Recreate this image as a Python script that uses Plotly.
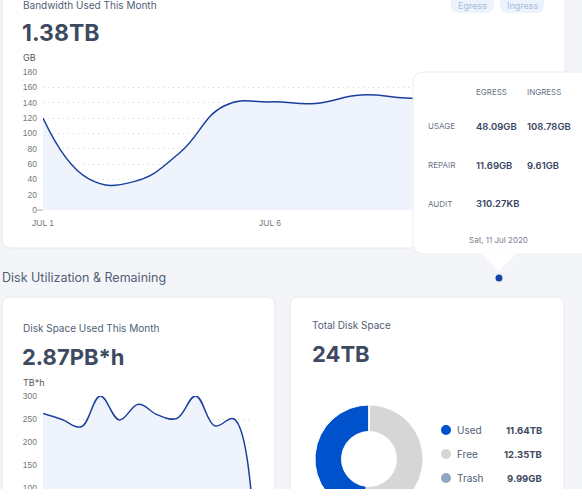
import math
import plotly.graph_objects as go

W, H = 582, 500

# ---------------- data ----------------
bw_days = list(range(1, 12))
bw_gb = [120, 41, 37, 74, 136, 141, 139, 150, 146, 144, 147]
bw_tickvals = [1, 6, 11]
bw_ticktext = ["JUL 1", "JUL 6", "JUL 11"]
bw_yticks = [0, 20, 40, 60, 80, 100, 120, 140, 160, 180]

disk_days = list(range(1, 13))
disk_tbh = [262, 249, 233, 300, 248, 282, 259, 251, 300, 235, 250, 40]
disk_yticks = [100, 150, 200, 250, 300]

donut_labels = ["Used", "Free", "Trash"]
donut_values_tb = [11.64, 12.35, 0.00999]
donut_text = ["11.64TB", "12.35TB", "9.99GB"]
donut_colors = ["#0052cc", "#d6d6d6", "#8fa5c6"]

tip_cols = ["EGRESS", "INGRESS"]
tip_rows = ["USAGE", "REPAIR", "AUDIT"]
tip_egress = ["48.09GB", "11.69GB", "310.27KB"]
tip_ingress = ["108.78GB", "9.61GB", ""]
tip_date = "Sat, 11 Jul 2020"

# ---------------- styles ----------------
BG = "#f4f5f9"
CARD_LINE = "#e7e9ee"
TITLE_C = "#516075"
BIG_C = "#3e4a61"
TICK_C = "#777777"
LINE_C = "#1b3f9c"
FILL_C = "#eff3fb"
GRID_C = "#d4d4d4"
FONT = "Inter"
TICKFONT = "Liberation Sans"


def X(x):
    return x / W


def Y(y):
    return 1 - y / H


def rr(x0, y0, x1, y1, r):
    p = [
        f"M {X(x0 + r)},{Y(y0)}",
        f"L {X(x1 - r)},{Y(y0)}",
        f"Q {X(x1)},{Y(y0)} {X(x1)},{Y(y0 + r)}",
        f"L {X(x1)},{Y(y1 - r)}",
        f"Q {X(x1)},{Y(y1)} {X(x1 - r)},{Y(y1)}",
        f"L {X(x0 + r)},{Y(y1)}",
        f"Q {X(x0)},{Y(y1)} {X(x0)},{Y(y1 - r)}",
        f"L {X(x0)},{Y(y0 + r)}",
        f"Q {X(x0)},{Y(y0)} {X(x0 + r)},{Y(y0)}",
        "Z",
    ]
    return " ".join(p)


shapes = []


def add_path(path, fill, line=None, layer="below", lw=1):
    shapes.append(dict(type="path", xref="paper", yref="paper", path=path,
                       fillcolor=fill, line=dict(color=line or fill, width=lw if line else 0),
                       layer=layer))


# page background and cards
shapes.append(dict(type="rect", xref="paper", yref="paper", x0=0, x1=1, y0=Y(489), y1=1,
                   fillcolor=BG, line=dict(width=0), layer="below"))
add_path(rr(2, -20, 565, 248, 9), "white", CARD_LINE)
add_path(rr(2, 297, 275, 540, 9), "white", CARD_LINE)
add_path(rr(290, 297, 564, 540, 9), "white", CARD_LINE)
# pills
add_path(rr(451, -12, 494, 13, 8), "#edf3fd")
add_path(rr(500, -12, 544, 13, 8), "#edf3fd")
# zero tick dash
shapes.append(dict(type="line", xref="paper", yref="paper", x0=X(37), x1=X(43), y0=Y(210), y1=Y(210),
                   line=dict(color="#aaaaaa", width=1), layer="below"))

# tooltip (above)
add_path(rr(413, 72, 595, 254, 11), "white", "#ebedf1", layer="above")
shapes.append(dict(type="path", xref="paper", yref="paper",
                   path=f"M {X(482)},{Y(253.5)} L {X(499)},{Y(271)} L {X(516)},{Y(253.5)} Z",
                   fillcolor="white", line=dict(width=0), layer="above"))
shapes.append(dict(type="circle", xref="paper", yref="paper", x0=X(495.5), x1=X(502.5),
                   y0=Y(281.5), y1=Y(274.5), fillcolor="#1a44a3", line=dict(width=0), layer="above"))
# white cut at the bottom
shapes.append(dict(type="rect", xref="paper", yref="paper", x0=0, x1=1, y0=0, y1=Y(489),
                   fillcolor="white", line=dict(width=0), layer="above"))

# legend dots for donut
for i, c in enumerate(donut_colors):
    cy = 430 + 24 * i
    shapes.append(dict(type="circle", xref="paper", yref="paper", x0=X(441), x1=X(451),
                       y0=Y(cy + 5), y1=Y(cy - 5), fillcolor=c, line=dict(width=0), layer="above"))

annotations = []


def ann(text, x, y, size, color, xanchor="left", weight=None, family=FONT):
    f = dict(size=size, color=color, family=family)
    if weight:
        f["weight"] = weight
    annotations.append(dict(text=text, x=X(x), y=Y(y), xref="paper", yref="paper",
                            xanchor=xanchor, yanchor="middle", showarrow=False, font=f,
                            borderpad=0))


ann("Bandwidth Used This Month", 22, 5, 10, TITLE_C)
ann("1.38TB", 21, 33, 23, BIG_C, weight=700)
ann("GB", 22, 58, 9, "#555555")
ann("Egress", 472, 5, 9, "#a8bbdc", xanchor="center")
ann("Ingress", 522, 5, 9, "#a8bbdc", xanchor="center")

ann("Disk Utilization &amp; Remaining", 1, 277, 12.5, TITLE_C)
ann("Disk Space Used This Month", 22, 328, 10, TITLE_C)
ann("2.87PB*h", 21, 357, 22, BIG_C, weight=700)
ann("TB*h", 22, 382, 9, "#555555")

ann("Total Disk Space", 311, 325, 10, TITLE_C)
ann("24TB", 311, 354, 22, BIG_C, weight=700)
for i, (lab, txt) in enumerate(zip(donut_labels, donut_text)):
    cy = 430 + 24 * i
    ann(lab, 456, cy, 10, TITLE_C)
    ann(txt, 543, cy, 9.5, BIG_C, xanchor="right", weight=700)

# tooltip text
for j, col in enumerate(tip_cols):
    ann(col, [475, 526][j], 92, 8, "#6b7384")
for i, row in enumerate(tip_rows):
    ry = [126, 165, 204][i]
    ann(row, 427, ry, 8, "#6b7384")
    ann(tip_egress[i], 475, ry, 9.5, "#3a4560", weight=600)
    if tip_ingress[i]:
        ann(tip_ingress[i], 526, ry, 9.5, "#3a4560", weight=600)
ann(tip_date, 498, 240, 8, "#7a8190", xanchor="center")

fig = go.Figure()

# bandwidth chart
fig.add_trace(go.Scatter(x=bw_days, y=bw_gb, mode="lines", xaxis="x", yaxis="y",
                         line=dict(color=LINE_C, width=1.5, shape="spline", smoothing=1.3),
                         fill="tozeroy", fillcolor=FILL_C, hoverinfo="skip", showlegend=False))
# disk chart
fig.add_trace(go.Scatter(x=disk_days, y=disk_tbh, mode="lines", xaxis="x2", yaxis="y2",
                         line=dict(color=LINE_C, width=1.5, shape="spline", smoothing=1.1),
                         fill="tozeroy", fillcolor=FILL_C, hoverinfo="skip", showlegend=False))

# donut (drawn on a pixel-scaled hidden axis)
cx, cy, r_out, r_in = 369, 459, 54, 27.5
total = sum(donut_values_tb)
start = 90.0
for lab, v, c in zip(donut_labels, donut_values_tb, donut_colors):
    sweep = 360.0 * v / total
    n = max(2, int(sweep / 1.5) + 2)
    angs = [start + sweep * k / (n - 1) for k in range(n)]
    xs = [cx + r_out * math.cos(math.radians(a)) for a in angs]
    ys = [cy - r_out * math.sin(math.radians(a)) for a in angs]
    xs += [cx + r_in * math.cos(math.radians(a)) for a in reversed(angs)]
    ys += [cy - r_in * math.sin(math.radians(a)) for a in reversed(angs)]
    xs.append(xs[0])
    ys.append(ys[0])
    fig.add_trace(go.Scatter(x=xs, y=ys, mode="lines", fill="toself", fillcolor=c,
                             line=dict(color="white", width=1), xaxis="x3", yaxis="y3",
                             hoverinfo="skip", showlegend=False, name=lab))
    start += sweep

tickfont = dict(family=TICKFONT, size=8.5, color=TICK_C)
fig.update_layout(
    width=W, height=H, autosize=False,
    margin=dict(l=0, r=0, t=0, b=0, pad=0, autoexpand=False),
    paper_bgcolor="white", plot_bgcolor="rgba(0,0,0,0)",
    shapes=shapes, annotations=annotations,
    xaxis=dict(domain=[X(43), X(497)], range=[1, 11], showgrid=False, zeroline=False,
               tickvals=bw_tickvals, ticktext=bw_ticktext, tickfont=tickfont, ticks="",
               ticklabelstandoff=6, showline=False, anchor="y", fixedrange=True, automargin=False),
    yaxis=dict(domain=[Y(210), Y(72)], range=[0, 180], tickvals=bw_yticks, showgrid=True,
               gridcolor=GRID_C, griddash="1px,4px", gridwidth=1, zeroline=False, tickfont=tickfont,
               ticks="", ticklabelstandoff=5, showline=False, anchor="x", fixedrange=True,
               automargin=False),
    xaxis2=dict(domain=[X(43), X(253)], range=[1, 12], showgrid=False, zeroline=False,
                showticklabels=False, ticks="", showline=False, anchor="y2", fixedrange=True,
                automargin=False),
    yaxis2=dict(domain=[0, Y(396)], range=[74, 300], tickvals=disk_yticks, showgrid=True,
                gridcolor=GRID_C, griddash="1px,4px", gridwidth=1, zeroline=False, tickfont=tickfont,
                ticks="", ticklabelstandoff=5, showline=False, anchor="x2", fixedrange=True,
                automargin=False),
    xaxis3=dict(domain=[X(290), X(564)], range=[290, 564], visible=False, anchor="y3",
                fixedrange=True),
    yaxis3=dict(domain=[0, Y(380)], range=[500, 380], visible=False, anchor="x3",
                fixedrange=True),
)

fig.write_html("out.html")
